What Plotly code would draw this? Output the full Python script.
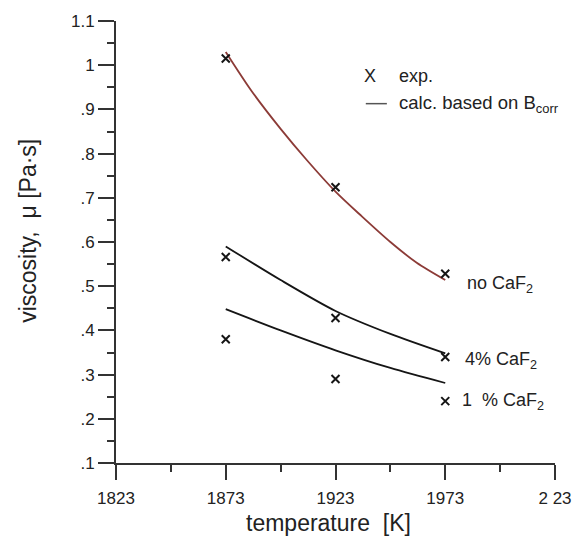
import plotly.graph_objects as go

# Measured viscosities at the three test temperatures
temps_exp = [1873, 1923, 1973]
exp_no_caf2 = [1.015, 0.724, 0.528]
exp_4_caf2 = [0.566, 0.428, 0.340]
exp_1_caf2 = [0.380, 0.290, 0.240]

# Calculated viscosity curves (based on B_corr)
calc_t_no = [1873, 1885, 1898, 1910, 1923, 1935, 1948, 1960, 1973]
calc_no_caf2 = [1.030, 0.940, 0.856, 0.785, 0.714, 0.658, 0.600, 0.553, 0.514]
calc_t = [1873, 1898, 1923, 1948, 1973]
calc_4_caf2 = [0.590, 0.514, 0.444, 0.392, 0.348]
calc_1_caf2 = [0.448, 0.400, 0.355, 0.315, 0.281]

# Axis ticks
x_tickvals = [1823, 1873, 1923, 1973, 2023]
x_ticktext = ["1823", "1873", "1923", "1973", "2\u00a023"]
y_tickvals = [0.1, 0.2, 0.3, 0.4, 0.5, 0.6, 0.7, 0.8, 0.9, 1.0, 1.1]
y_ticktext = [".1", ".2", ".3", ".4", ".5", ".6", ".7", ".8", ".9", "1", "1.1"]

FONT = "Liberation Sans, Arial, sans-serif"
TXT = "#222222"
AX = "#333333"
BROWN = "#8c3b37"

fig = go.Figure()

fig.add_trace(go.Scatter(x=calc_t_no, y=calc_no_caf2, mode="lines",
                         line=dict(color=BROWN, width=1.8, shape="spline", smoothing=0.8),
                         hoverinfo="skip"))
for ys in [calc_4_caf2, calc_1_caf2]:
    fig.add_trace(go.Scatter(x=calc_t, y=ys, mode="lines",
                             line=dict(color="#151515", width=1.8, shape="spline", smoothing=0.8),
                             hoverinfo="skip"))

for ys in [exp_no_caf2, exp_4_caf2, exp_1_caf2]:
    fig.add_trace(go.Scatter(x=temps_exp, y=ys, mode="markers",
                             marker=dict(symbol="x-thin", size=8, line=dict(color="#151515", width=2))))

# Curve labels
labels = [
    (1982, 0.504, "no CaF<sub>2</sub>"),
    (1981, 0.333, "4% CaF<sub>2</sub>"),
    (1979.5, 0.240, "1\u00a0\u00a0% CaF<sub>2</sub>"),
]
for x, y, t in labels:
    fig.add_annotation(x=x, y=y, xref="x", yref="y", text=t, showarrow=False,
                       xanchor="left", yanchor="middle", font=dict(family=FONT, size=18, color=TXT))

# Key
fig.add_annotation(x=0.578, y=0.876, xref="paper", yref="paper", text="X", showarrow=False,
                   xanchor="center", yanchor="middle", font=dict(family=FONT, size=18, color=TXT))
fig.add_annotation(x=0.639, y=0.876, xref="paper", yref="paper", text="exp.", showarrow=False,
                   xanchor="left", yanchor="middle", font=dict(family=FONT, size=18, color=TXT))
fig.add_shape(type="line", xref="paper", yref="paper", x0=0.569, x1=0.617, y0=0.813, y1=0.813,
              line=dict(color="#555555", width=1.5))
fig.add_annotation(x=0.639, y=0.813, xref="paper", yref="paper", text="calc. based on B<sub>corr</sub>",
                   showarrow=False, xanchor="left", yanchor="middle",
                   font=dict(family=FONT, size=18.5, color=TXT))

# Axis titles
fig.add_annotation(x=0.485, y=-0.135, xref="paper", yref="paper", text="temperature\u00a0\u00a0[K]",
                   showarrow=False, xanchor="center", yanchor="middle",
                   font=dict(family=FONT, size=23, color=TXT))
fig.add_annotation(x=-0.202, y=0.526, xref="paper", yref="paper", text="viscosity,\u00a0\u00a0\u03bc [Pa\u00b7s]",
                   showarrow=False, xanchor="center", yanchor="middle", textangle=-90,
                   font=dict(family=FONT, size=23, color=TXT))

fig.update_layout(
    width=584, height=538, autosize=False,
    margin=dict(l=116, r=27, t=20, b=75),
    paper_bgcolor="white", plot_bgcolor="white",
    showlegend=False,
    font=dict(family=FONT, color=TXT),
)
fig.update_xaxes(range=[1823, 2023], showgrid=False, zeroline=False, showline=True, linecolor=AX, linewidth=1.8,
                 ticks="outside", ticklen=15, tickwidth=1.6, tickcolor=AX, ticklabelstandoff=4,
                 tickvals=x_tickvals, ticktext=x_ticktext, tickfont=dict(family=FONT, size=17, color=TXT),
                 minor=dict(ticks="outside", ticklen=7, tickwidth=1.6, tickcolor=AX, dtick=25, tick0=1823))
fig.update_yaxes(range=[0.1, 1.1], showgrid=False, zeroline=False, showline=True, linecolor=AX, linewidth=1.8,
                 ticks="outside", ticklen=16, tickwidth=1.6, tickcolor=AX,
                 tickvals=y_tickvals, ticktext=y_ticktext, tickfont=dict(family=FONT, size=17, color=TXT),
                 minor=dict(ticks="outside", ticklen=7, tickwidth=1.6, tickcolor=AX, dtick=0.05, tick0=0.1))

fig.write_html("out.html")
